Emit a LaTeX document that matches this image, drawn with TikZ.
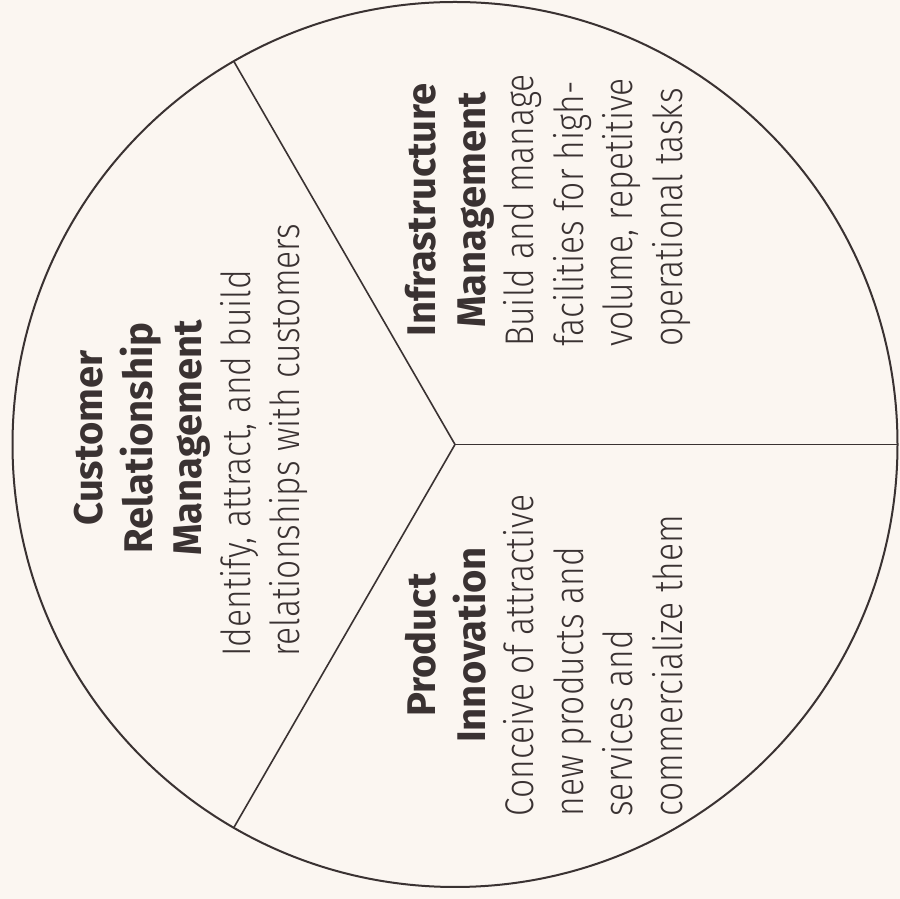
\documentclass[tikz,border=0pt]{standalone}
\usepackage{fontspec}
\newfontfamily\bodyfont{Fira Sans Light}[FakeStretch=0.84]
\newfontfamily\headfont{Fira Sans Bold}
\definecolor{bg}{RGB}{251,246,241}
\definecolor{ink}{RGB}{58,50,50}
\begin{document}
\begin{tikzpicture}[x=0.5pt,y=0.5pt,
  body/.style={rotate=90,anchor=base west,inner sep=0pt,text=ink,font=\bodyfont\fontsize{20}{24}\selectfont},
  head/.style={rotate=90,anchor=base,inner sep=0pt,text=ink,font=\headfont\fontsize{20}{24}\selectfont},
  rim/.style={draw=ink,line width=1pt},
  spoke/.style={draw=ink,line width=0.8pt}]
\fill[bg] (0,0) rectangle (900,899);
\useasboundingbox (0,0) rectangle (900,899);
\node[circle,rim,minimum size=442.5pt,inner sep=0pt,outer sep=0pt] (pie) at (455,454.5) {};
\draw[spoke] (pie.center) -- (pie.0);
\draw[spoke] (pie.center) -- (pie.120);
\draw[spoke] (pie.center) -- (pie.240);
% Customer Relationship Management
\node[head] (c1) at (102,461) {Customer};
\node[head] (c2) at (152,461) {Relationship};
\node[head] (c3) at (201,461) {Management};
\node[body] (c4) at (250,242) {Identify, attract, and build};
\node[body] (c5) at (299,242) {relationships with customers};
% Infrastructure Management
\node[head] (i1) at (435,689) {Infrastructure};
\node[head] (i2) at (485,689) {Management};
\node[body] (i3) at (533,552) {Build and manage};
\node[body] (i4) at (583,552) {facilities for high-};
\node[body] (i5) at (632,552) {volume, repetitive};
\node[body] (i6) at (682,552) {operational tasks};
% Product Innovation
\node[head] (p1) at (435,254) {Product};
\node[head] (p2) at (485,254) {Innovation};
\node[body] (p3) at (533,82) {Conceive of attractive};
\node[body] (p4) at (583,82) {new products and};
\node[body] (p5) at (632,82) {services and};
\node[body] (p6) at (682,82) {commercialize them};
\end{tikzpicture}
\end{document}
